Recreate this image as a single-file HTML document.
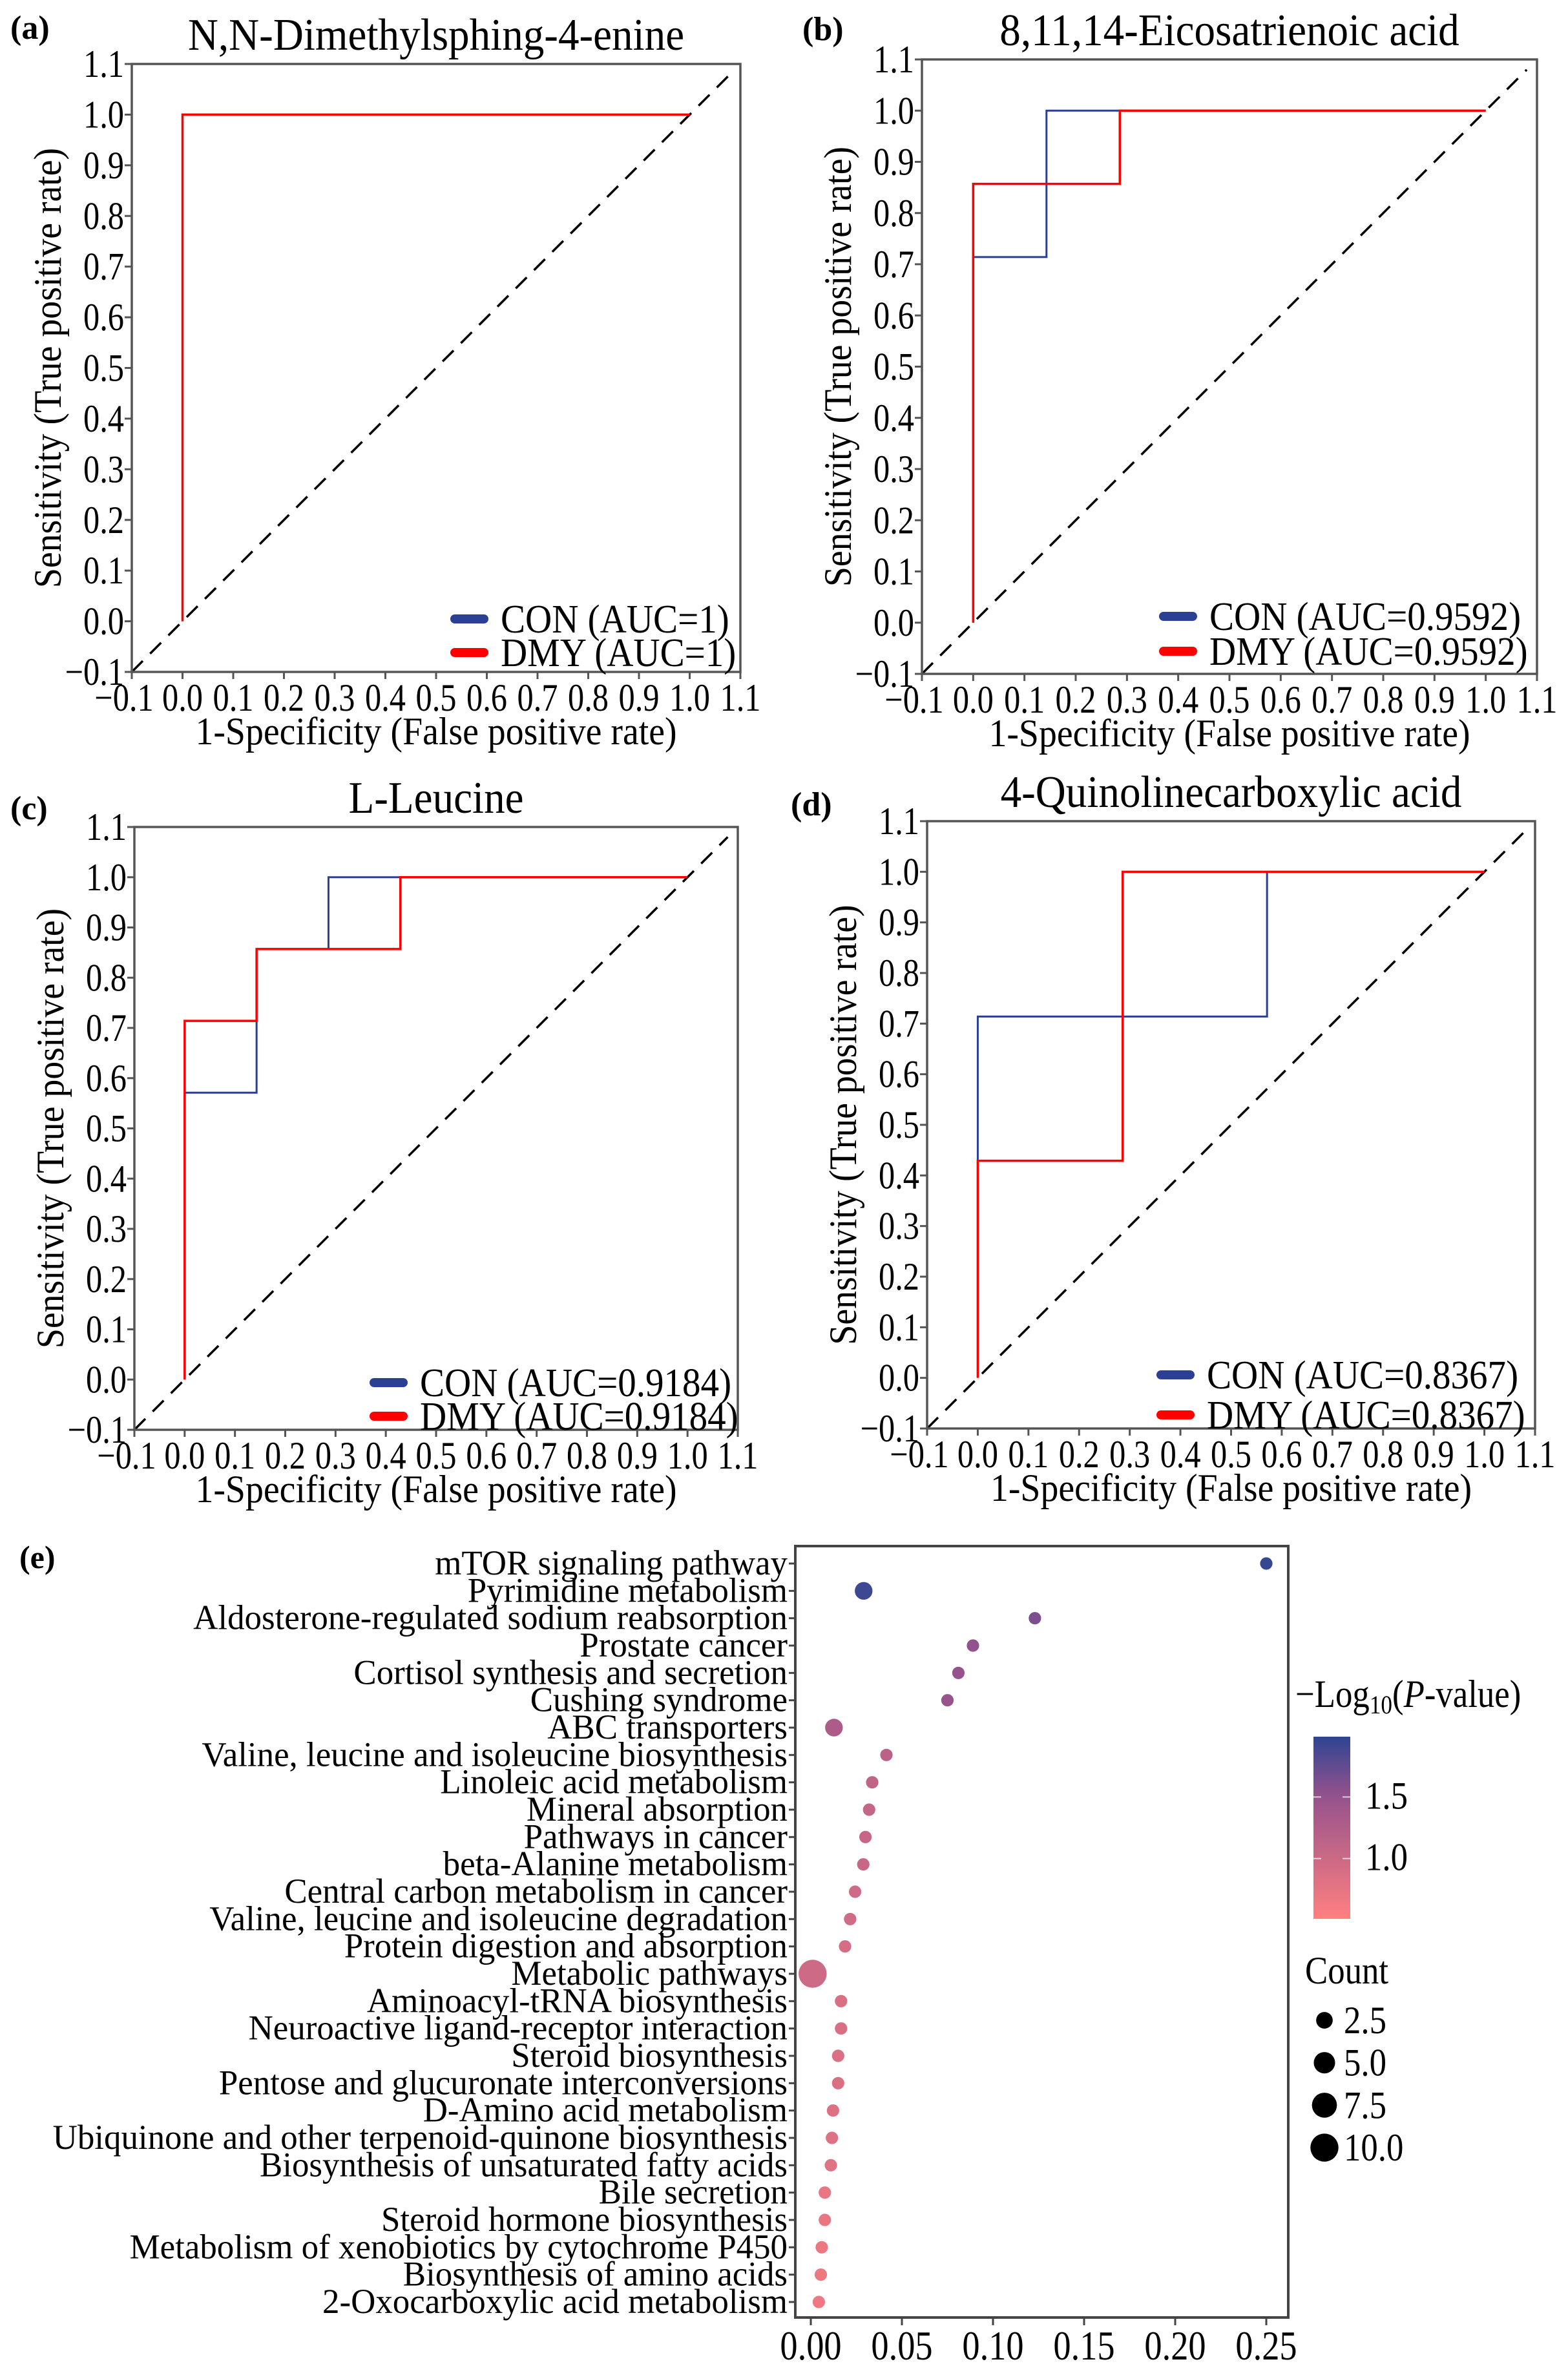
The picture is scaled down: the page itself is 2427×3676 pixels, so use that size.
<!DOCTYPE html>
<html><head><meta charset="utf-8"><style>
html,body{margin:0;padding:0;background:#fff;}
svg{display:block;font-family:"Liberation Serif",serif;}
</style></head><body>
<svg id="fig" width="2427" height="3676" viewBox="0 0 2427 3676" xmlns="http://www.w3.org/2000/svg">
<rect width="2427" height="3676" fill="#fff"/>
</svg>
<script>
// ROC data
const rocTitles = ["N,N-Dimethylsphing-4-enine","8,11,14-Eicosatrienoic acid","L-Leucine","4-Quinolinecarboxylic acid"];
const rocLetters = ["(a)","(b)","(c)","(d)"];
const rocAUC = ["1","0.9592","0.9184","0.8367"];
const conFPR = [[0,0,1],[0,0,0.143,0.143,1],[0,0,0.143,0.143,0.286,0.286,1],[0,0,0.571,0.571,1]];
const conTPR = [[0,1,1],[0,0.714,0.714,1,1],[0,0.571,0.571,0.857,0.857,1,1],[0,0.714,0.714,1,1]];
const dmyFPR = [[0,0,1],[0,0,0.286,0.286,1],[0,0,0.143,0.143,0.429,0.429,1],[0,0,0.286,0.286,1]];
const dmyTPR = [[0,1,1],[0,0.857,0.857,1,1],[0,0.714,0.714,0.857,0.857,1,1],[0,0.429,0.429,1,1]];
const rocTicks = ["\u22120.1","0.0","0.1","0.2","0.3","0.4","0.5","0.6","0.7","0.8","0.9","1.0","1.1"];

// Enrichment data
const pathways = ["mTOR signaling pathway","Pyrimidine metabolism","Aldosterone-regulated sodium reabsorption","Prostate cancer","Cortisol synthesis and secretion","Cushing syndrome","ABC transporters","Valine, leucine and isoleucine biosynthesis","Linoleic acid metabolism","Mineral absorption","Pathways in cancer","beta-Alanine metabolism","Central carbon metabolism in cancer","Valine, leucine and isoleucine degradation","Protein digestion and absorption","Metabolic pathways","Aminoacyl-tRNA biosynthesis","Neuroactive ligand-receptor interaction","Steroid biosynthesis","Pentose and glucuronate interconversions","D-Amino acid metabolism","Ubiquinone and other terpenoid-quinone biosynthesis","Biosynthesis of unsaturated fatty acids","Bile secretion","Steroid hormone biosynthesis","Metabolism of xenobiotics by cytochrome P450","Biosynthesis of amino acids","2-Oxocarboxylic acid metabolism"];
const richFactor = [0.25,0.029,0.123,0.089,0.081,0.075,0.0127,0.0415,0.0337,0.032,0.030,0.0288,0.0243,0.0216,0.0188,0.001,0.0166,0.0166,0.015,0.015,0.0122,0.0116,0.011,0.0077,0.0077,0.006,0.0055,0.0044];
const negLogP = [1.95,1.92,1.62,1.52,1.5,1.48,1.28,1.15,1.1,1.08,1.05,1.03,0.97,0.95,0.92,0.98,0.88,0.88,0.86,0.86,0.83,0.82,0.81,0.73,0.72,0.68,0.68,0.66];
const counts = [1,3,1,1,1,1,3,1,1,1,1,1,1,1,1,10,1,1,1,1,1,1,1,1,1,1,1,1];
const xTickVals = [0,0.05,0.10,0.15,0.20,0.25];
const xTickLabels = ["0.00","0.05","0.10","0.15","0.20","0.25"];
const cbTicks = [1.5,1.0];
const cbTickLabels = ["1.5","1.0"];
const sizeLegend = [2.5,5.0,7.5,10.0];
const sizeLegendLabels = ["2.5","5.0","7.5","10.0"];

const NS="http://www.w3.org/2000/svg";
const svg=document.getElementById('fig');
function mk(tag,attrs,parent){const e=document.createElementNS(NS,tag);for(const k in attrs)e.setAttribute(k,attrs[k]);(parent||svg).appendChild(e);return e;}
function txt(s,attrs,parent){const e=mk('text',attrs,parent);e.textContent=s;return e;}
function ctxt(s,x,y,size,sx,anchor,parent){
  const e=mk('text',{x:0,y:0,'font-size':size,'text-anchor':anchor||'start',transform:`translate(${x},${y}) scale(${sx},1)`},parent);
  e.textContent=s;return e;
}

const boxes=[{l:204,t:99,r:1146,b:1040},{l:1427,t:92,r:2379,b:1043},{l:208,t:1280,r:1142,b:2213},{l:1435,t:1271,r:2376,b:2211}];
const letterPos=[[16,60],[1242,62],[16,1268],[1224,1262]];
const legendY=[[958,1010],[954,1008],[2140,2192],[2128,2190]];
const legendX=[697,1794,572,1790];

boxes.forEach((B,i)=>{
  const g=mk('g',{});
  
  
  const xs=v=>B.l+(v+0.1)/1.2*(B.r-B.l);
  const ys=v=>B.b-(v+0.1)/1.2*(B.b-B.t);
  const lt=txt(rocLetters[i],{x:letterPos[i][0],y:letterPos[i][1],'font-size':52,'font-weight':'bold'},g);
  
  
  const tt=ctxt(rocTitles[i],(B.l+B.r)/2,B.t-22,70,0.93,'middle',g);
  
  
  rocTicks.forEach((lab,k)=>{
    const v=-0.1+k*0.1;
    mk('line',{x1:B.l-11,x2:B.l,y1:ys(v),y2:ys(v),stroke:'#555','stroke-width':3},g);
    const yl=ctxt(lab,B.l-12,ys(v)+20,60,0.84,'end',g);
    
    
    mk('line',{x1:xs(v),x2:xs(v),y1:B.b,y2:B.b+11,stroke:'#555','stroke-width':3},g);
    const xl=ctxt(lab,xs(v)+(k===0?-12:0),B.b+60,60,0.84,'middle',g);
    
    
  });
  const xt=ctxt('1-Specificity (False positive rate)',(B.l+B.r)/2,B.b+112,60,0.93,'middle',g);
  
  
  const cy=(B.t+B.b)/2;
  const yt=txt('Sensitivity (True positive rate)',{x:0,y:0,'font-size':60,'text-anchor':'middle',transform:`translate(${B.l-110},${cy}) rotate(-90) scale(0.93,1)`},g);
  
  
  const dg=mk('line',{x1:xs(-0.1),y1:ys(-0.1),x2:xs(1.08),y2:ys(1.08),stroke:'#000','stroke-width':3.5,'stroke-dasharray':'24 16'},g);
  
  
  const pc=conFPR[i].map((x,j)=>xs(x)+','+ys(conTPR[i][j])).join(' ');
  const cl=mk('polyline',{points:pc,fill:'none',stroke:'#2B3F94','stroke-width':3},g);
  
  
  const pd=dmyFPR[i].map((x,j)=>xs(x)+','+ys(dmyTPR[i][j])).join(' ');
  const dl=mk('polyline',{points:pd,fill:'none',stroke:'#FF0000','stroke-width':3.5},g);
  
  
  const bx=mk('rect',{x:B.l,y:B.t,width:B.r-B.l,height:B.b-B.t,fill:'none',stroke:'#555','stroke-width':3.5},g);
  
  
  const lx=legendX[i];
  [['CON','#2B3F94'],['DMY','#FF0000']].forEach((s,j)=>{
    const ly=legendY[i][j];
    const le=mk('g',{},g);
    
    
    mk('line',{x1:lx+7,x2:lx+52,y1:ly,y2:ly,stroke:s[1],'stroke-width':14,'stroke-linecap':'round'},le);
    ctxt(s[0]+' (AUC='+rocAUC[i]+')',lx+78,ly+21,62,0.92,'start',le);
  });
});

// Panel e
const E={l:1231,t:2393,r:1994,b:3587};
const ge=mk('g',{});


const ex=v=>1255+v/0.05*141;
const rowY=i=>2420+i*(3563-2420)/(pathways.length-1);
const rad=c=>4+5.6*Math.sqrt(c);
function lerp(a,b,t){return a.map((v,k)=>Math.round(v+(b[k]-v)*t));}
const cLow=[255,128,128],cMid=[150,82,140],cHigh=[46,69,147];
function col(v){
  const t=Math.max(0,Math.min(1,(v-0.51)/(1.99-0.51)));
  const c=t<0.67?lerp(cLow,cMid,t/0.67):lerp(cMid,cHigh,(t-0.67)/0.33);
  return `rgb(${c[0]},${c[1]},${c[2]})`;
}
const le=txt('(e)',{x:30,y:2427,'font-size':50,'font-weight':'bold'},ge);


pathways.forEach((p,i)=>{
  const y=rowY(i);
  mk('line',{x1:E.l-10,x2:E.l,y1:y,y2:y,stroke:'#444','stroke-width':3},ge);
  const t=ctxt(p,E.l-12,y+17,54,0.98,'end',ge);
  
  
  const c=mk('circle',{cx:ex(richFactor[i]),cy:y,r:rad(counts[i]),fill:col(negLogP[i])},ge);
  
  
});
const ef=mk('rect',{x:E.l,y:E.t,width:E.r-E.l,height:E.b-E.t,fill:'none',stroke:'#444','stroke-width':4},ge);


xTickVals.forEach((v,k)=>{
  mk('line',{x1:ex(v),x2:ex(v),y1:E.b,y2:E.b+12,stroke:'#444','stroke-width':3},ge);
  const t=ctxt(xTickLabels[k],ex(v),3652,64,0.85,'middle',ge);
  
  
});
const defs=mk('defs',{});
const grad=mk('linearGradient',{id:'cb',x1:0,y1:1,x2:0,y2:0},defs);
for(let k=0;k<=10;k++){const v=0.51+k/10*(1.99-0.51);mk('stop',{offset:k/10,'stop-color':col(v)},grad);}
const cbTop=2688,cbBot=2970;
const cbY=v=>cbBot-(v-0.51)/(1.99-0.51)*(cbBot-cbTop);
const ct=txt('',{x:0,y:0,'font-size':60,transform:'translate(2005,2642) scale(0.88,1)'},ge);


ct.innerHTML='\u2212Log<tspan font-size="40" dy="10">10</tspan><tspan dy="-10">(</tspan><tspan font-style="italic">P</tspan>-value)';
const cb=mk('rect',{x:2033,y:cbTop,width:57,height:cbBot-cbTop,fill:'url(#cb)'},ge);


cbTicks.forEach((v,k)=>{
  mk('line',{x1:2033,x2:2045,y1:cbY(v),y2:cbY(v),stroke:'#fff','stroke-width':2,opacity:0.7},ge);
  mk('line',{x1:2078,x2:2090,y1:cbY(v),y2:cbY(v),stroke:'#fff','stroke-width':2,opacity:0.7},ge);
  const t=ctxt(cbTickLabels[k],2113,cbY(v)+18,60,0.88,'start',ge);
  
  
});
const cnt=ctxt('Count',2020,3070,60,0.88,'start',ge);


sizeLegend.forEach((v,k)=>{
  const y=3127+k*65.7;
  const c=mk('circle',{cx:2050,cy:y,r:rad(v),fill:'#000'},ge);
  
  
  const t=ctxt(sizeLegendLabels[k],2080,y+20,60,0.88,'start',ge);
  
  
});
</script>
</body></html>
